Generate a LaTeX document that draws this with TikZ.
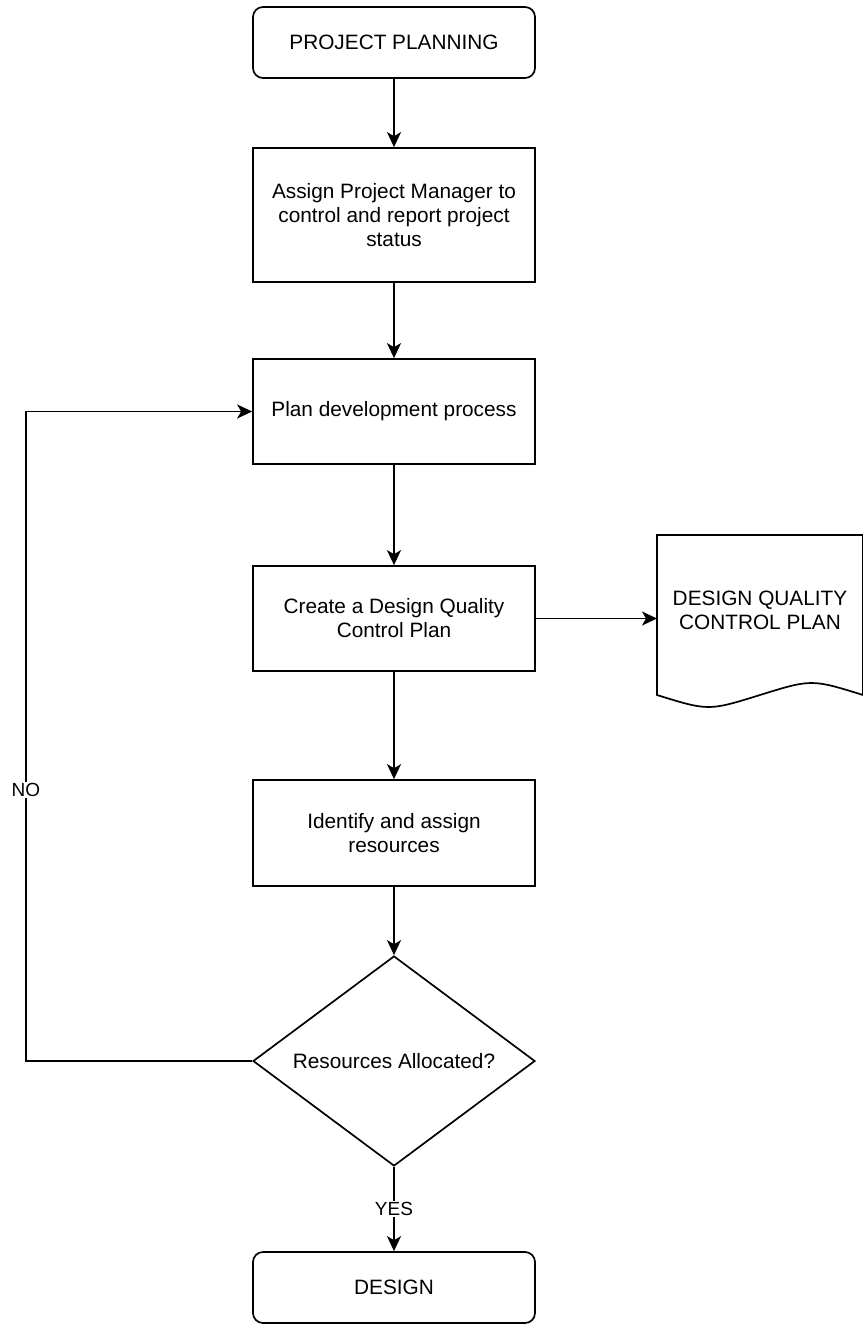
\documentclass[tikz,border=0pt]{standalone}
\usepackage{fontspec}
\setmainfont{Liberation Sans}
\usetikzlibrary{shapes.geometric,arrows.meta}

\begin{document}
\begin{tikzpicture}[x=1pt,y=-1pt,
  box/.style={draw, line width=1.7pt, minimum width=282pt, align=center,
    inner sep=0pt, font=\fontsize{20.8}{24}\selectfont},
  endbox/.style={box, rounded corners=10pt, minimum height=71pt},
  taskbox/.style={box, minimum height=105pt},
  decision/.style={box, diamond, aspect=1.34, minimum height=210pt},
  flow/.style={line width=1.7pt, -{Stealth[length=15pt,width=14pt,inset=4pt]}},
  lbl/.style={fill=white, inner sep=1pt, font=\fontsize{19}{22}\selectfont}]
  \useasboundingbox (0,0) rectangle (862,1324);
  \def\cx{394}

  % main column
  \node[endbox] (planning) at (\cx,42.5) {PROJECT PLANNING};
  \node[taskbox, minimum height=134pt] (assignpm) at (\cx,215)
    {Assign Project Manager to\\control and report project\\status};
  \node[taskbox] (plandev) at (\cx,411.5) {Plan development process};
  \node[taskbox] (createqc) at (\cx,618.5) {Create a Design Quality\\Control Plan};
  \node[taskbox, minimum height=106pt] (resources) at (\cx,833) {Identify and assign\\resources};
  \node[decision] (decide) at (\cx,1061) {Resources Allocated?};
  \node[endbox] (design) at (\cx,1287.5) {DESIGN};

  % document shape, cut by the right border
  \coordinate (docNW) at (657,535);
  \draw[line width=1.7pt] (docNW) -- (863,535) -- (863,695)
    .. controls (811.5,679) .. (760,695)
    .. controls (708.5,711) .. (657,695) -- cycle;
  \node[align=center, font=\fontsize{20.8}{24}\selectfont] (qcplan) at (760,610)
    {DESIGN QUALITY\\CONTROL PLAN};

  \draw[flow] (planning.south) -- (assignpm.north);
  \draw[flow] (assignpm.south) -- (plandev.north);
  \draw[flow] (plandev.south) -- (createqc.north);
  \draw[flow] (createqc.east) -- (createqc.east -| docNW);
  \draw[flow] (createqc.south) -- (resources.north);
  \draw[flow] (resources.south) -- (decide.north);
  \draw[flow] (decide.south) -- node[lbl] {YES} (design.north);

  % back loop when not allocated
  \coordinate (loopx) at (26,0);
  \draw[flow] (decide.west) -- (decide.west -| loopx)
    -- node[lbl, pos=0.417] {NO} (plandev.west -| loopx) -- (plandev.west);
\end{tikzpicture}
\end{document}
